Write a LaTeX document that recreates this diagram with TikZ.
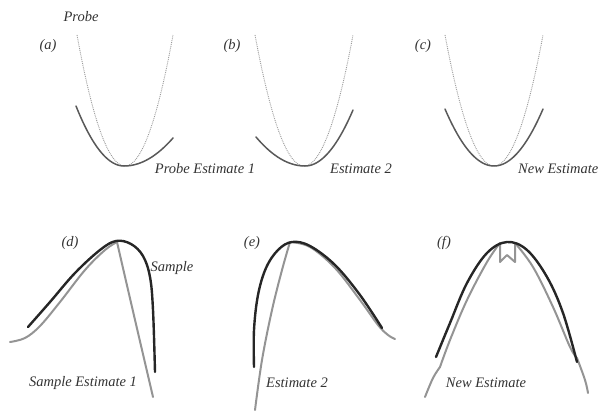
\documentclass[tikz,border=0pt]{standalone}
\usepackage{fontspec}
\setmainfont{Liberation Serif}
\begin{document}
\begin{tikzpicture}[x=1pt,y=-1pt,
  lbl/.style={font=\fontsize{14.5}{17}\selectfont\itshape, text=black!80, inner sep=0pt},
  probe/.style={draw=black!40, densely dotted, line width=0.9pt},
  est/.style={draw=black!65, line width=1.5pt, line cap=round},
  darkc/.style={draw=black!85, line width=2.4pt, line cap=round, line join=round},
  grayc/.style={draw=black!42, line width=2pt, line cap=round, line join=round}]
\useasboundingbox (0,0) rectangle (601,414);
% ---- top row ----
\node[lbl] (probe) at (81,17) {Probe};
\node[lbl] (la) at (48,46) {(a)};
\node[lbl] (lb) at (232,46) {(b)};
\node[lbl] (lc) at (423,46) {(c)};
% (a)
\draw[probe] plot[domain=-48:48,samples=60] ({125+\x},{166-131*(\x/48)^2});
\draw[est] plot[domain=-48:0,samples=40] ({124+\x},{166-60*(\x/48)^2}) -- plot[domain=0:49,samples=40] ({124+\x},{166-28*(\x/49)^2});
% (b)
\draw[probe] plot[domain=-49:49,samples=60] ({304+\x},{166-131*(\x/49)^2});
\draw[est] plot[domain=-49:0,samples=40] ({305+\x},{166-29*(\x/49)^2}) -- plot[domain=0:48,samples=40] ({305+\x},{166-56*(\x/48)^2});
% (c)
\draw[probe] plot[domain=-49:49,samples=60] ({494+\x},{166-131*(\x/49)^2});
\draw[est] plot[domain=-49:49,samples=60] ({494+\x},{166-57*(\x/49)^2});
\node[lbl] (pe1) at (205,169) {Probe Estimate 1};
\node[lbl] (e2t) at (361,169) {Estimate 2};
\node[lbl,anchor=west] (net) at (518,169) {New Estimate};
% ---- bottom row ----
\node[lbl] (ld) at (70,243) {(d)};
\node[lbl] (le) at (252,243) {(e)};
\node[lbl] (lf) at (444,243) {(f)};
% (d)
\draw[grayc] plot[smooth,tension=0.6] coordinates {(10,342) (25,338) (40,326) (60,302) (85,270) (105,250) (117,242)}
  .. controls (128,290) and (142,350) .. (153,397);
\draw[darkc] plot[smooth,tension=0.6] coordinates {(28,327) (50,302) (75,273) (100,250) (116,241) (131,244) (143,256) (150,277) (153,310) (155,372)};
\node[lbl] (smp) at (172,268) {Sample};
\node[lbl] (se1) at (83,383) {Sample Estimate 1};
% (e)
\draw[grayc] plot[smooth,tension=0.6] coordinates {(255,410) (262,360) (272,310) (282,270) (290,242)};
\draw[grayc] plot[smooth,tension=0.6] coordinates {(290,242) (310,247) (335,268) (360,300) (378,325) (388,335) (395,339)};
\draw[darkc] plot[smooth,tension=0.6] coordinates {(254,367) (254,330) (258,295) (266,268) (278,250) (292,242) (310,246) (335,265) (360,295) (382,328)};
\node[lbl] (e2b) at (297,383) {Estimate 2};
% (f)
\draw[grayc] plot[smooth,tension=0.6] coordinates {(425,397) (433,378) (440,367)};
\draw[grayc] plot[smooth,tension=0.6] coordinates {(440,367) (450,340) (467,300) (487,262) (500,243)}
  -- (500,262) -- (507,255) -- (515,262) -- (515,243);
\draw[grayc] plot[smooth,tension=0.6] coordinates {(515,243) (533,267) (553,307) (570,347) (577,358)};
\draw[grayc] plot[smooth,tension=0.6] coordinates {(577,358) (585,380) (588,393)};
\draw[darkc] plot[smooth,tension=0.6] coordinates {(436,357) (450,323) (467,283) (487,253) (507,242) (527,250) (547,277) (563,313) (577,362)};
\node[lbl] (neb) at (486,383) {New Estimate};
\end{tikzpicture}
\end{document}
